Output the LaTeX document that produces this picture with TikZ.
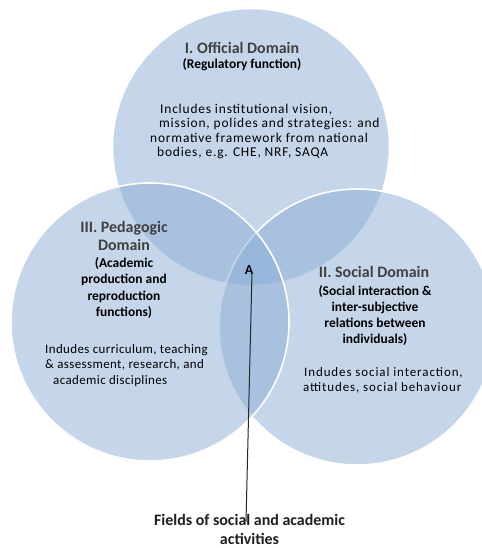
\documentclass[tikz,border=0pt]{standalone}
\usepackage{fontspec}
\setmainfont{Carlito}
% body text families with a little tracking
\newfontfamily\bodytop{Carlito}[LetterSpace=6]
\newfontfamily\bodyleft{Carlito}[LetterSpace=3]
\newfontfamily\bodyright{Carlito}[LetterSpace=7]
\definecolor{vennblue}{RGB}{139,173,213}
\definecolor{titlegray}{RGB}{64,64,64}
\definecolor{labelink}{RGB}{30,30,30}
\begin{document}
\begin{tikzpicture}[x=1bp,y=-1bp,
  venn/.style={fill=vennblue, fill opacity=0.5, draw=white, line width=1.6bp},
  dtitle/.style={inner sep=0pt, align=center, text=titlegray,
    font=\fontsize{16}{18}\selectfont\bfseries},
  dsub/.style={inner sep=0pt, align=center, text=black,
    font=\fontsize{13.5}{16.5}\selectfont\bfseries},
  dbody/.style={inner sep=0pt, align=left, text=black},
  leader/.style={draw=black!85, line width=1bp}]
\useasboundingbox (0,0) rectangle (482,548);

% the three domains
\begin{scope}
  \clip (0,0) rectangle (482,548);
  \path[venn] (251,147) circle[radius=138.5];
  \path[venn] (357,327) circle[radius=138];
  \path[venn] (150,322) circle[radius=139];
\end{scope}

% I. Official Domain
\node[dtitle] (t1) at (242,48) {I. Official Domain};
\node[dsub] (s1) at (242,65) {(Regulatory function)};
\node[dbody, anchor=west, font=\fontsize{13.5}{14.5}\selectfont\bodytop] (b1) at (150,131.5)
  {\hspace*{10bp}Includes institutional vision,\\
   \hspace*{9bp}mission, polides and strategies: and\\
   normative framework from national\\
   \hspace*{7bp}bodies, e.g. CHE, NRF, SAQA};

% III. Pedagogic Domain
\node[dtitle] (t3) at (124,236) {III. Pedagogic\\Domain};
\node[dsub, font=\fontsize{13.5}{16.7}\selectfont\bfseries] (s3) at (124,288)
  {(Academic\\production and\\reproduction\\functions)};
\node[dbody, anchor=west, font=\fontsize{13}{15.5}\selectfont\bodyleft] (b3) at (45,365.5)
  {Indudes curriculum, teaching\\
   \& assessment, research, and\\
   \hspace*{8bp}academic disciplines};

% II. Social Domain
\node[dtitle] (t2) at (374,272) {II. Social Domain};
\node[dsub, font=\fontsize{13.5}{16}\selectfont\bfseries] (s2) at (375,315.5)
  {(Social interaction \&\\inter-subjective\\relations between\\individuals)};
\node[dbody, anchor=west, font=\fontsize{13}{15}\selectfont\bodyright] (b2) at (303,380.5)
  {\hspace*{1bp}Indudes social interaction,\\attitudes, social behaviour};

% shared field of the three domains and its caption
\node[inner sep=0pt, text=black, font=\fontsize{14}{16}\selectfont\bfseries] (A) at (249,270) {A};
\node[inner sep=0pt, align=center, text=labelink,
  font=\fontsize{16}{19}\selectfont\bfseries] (fields) at (249.5,529)
  {Fields of social and academic\\activities};
\draw[leader] ([xshift=3bp,yshift=3bp]A.south) -- ([xshift=-3.5bp,yshift=-8bp]fields.north);
\end{tikzpicture}
\end{document}
